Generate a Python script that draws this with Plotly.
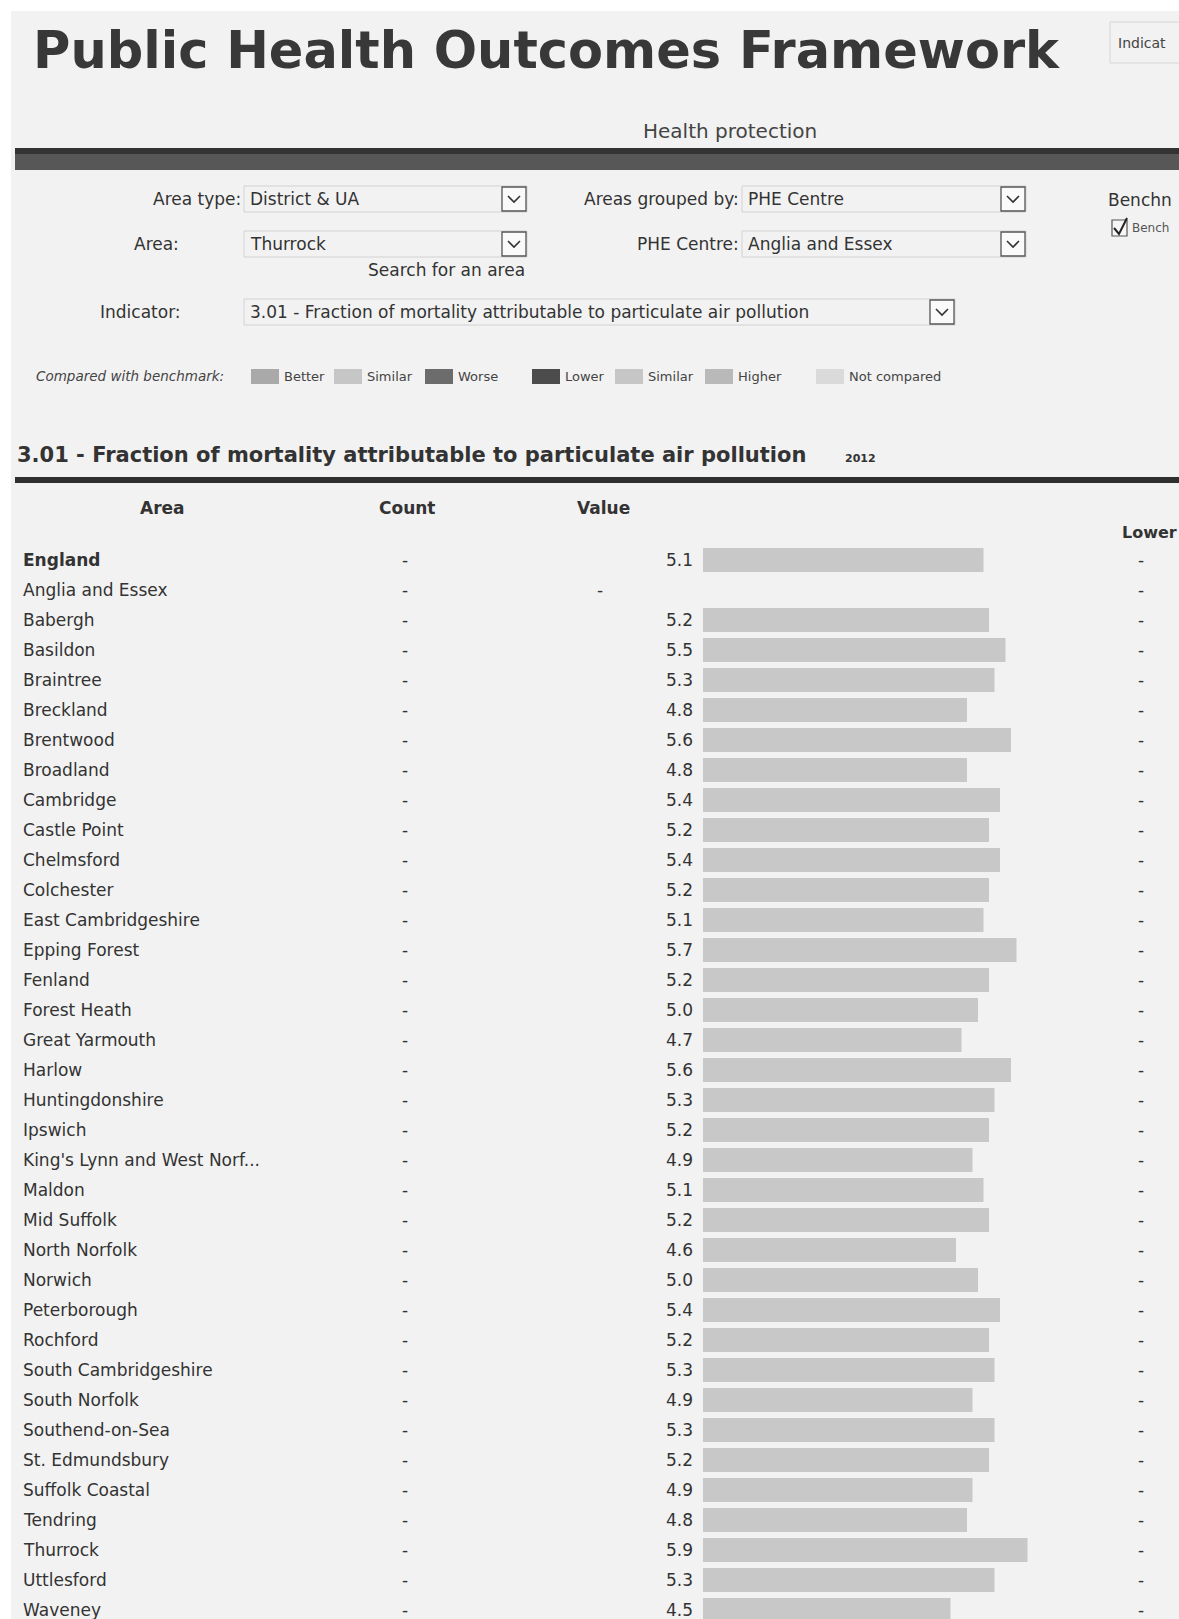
import plotly.graph_objects as go

W, H = 1179, 1619

# ---- table data -------------------------------------------------------------
areas = [
    "England", "Anglia and Essex", "Babergh", "Basildon", "Braintree",
    "Breckland", "Brentwood", "Broadland", "Cambridge", "Castle Point",
    "Chelmsford", "Colchester", "East Cambridgeshire", "Epping Forest",
    "Fenland", "Forest Heath", "Great Yarmouth", "Harlow", "Huntingdonshire",
    "Ipswich", "King's Lynn and West Norf...", "Maldon", "Mid Suffolk",
    "North Norfolk", "Norwich", "Peterborough", "Rochford",
    "South Cambridgeshire", "South Norfolk", "Southend-on-Sea",
    "St. Edmundsbury", "Suffolk Coastal", "Tendring", "Thurrock",
    "Uttlesford", "Waveney",
]
values = [
    5.1, None, 5.2, 5.5, 5.3, 4.8, 5.6, 4.8, 5.4, 5.2, 5.4, 5.2, 5.1, 5.7,
    5.2, 5.0, 4.7, 5.6, 5.3, 5.2, 4.9, 5.1, 5.2, 4.6, 5.0, 5.4, 5.2, 5.3,
    4.9, 5.3, 5.2, 4.9, 4.8, 5.9, 5.3, 4.5,
]
counts = ["-"] * len(areas)
lower_ci = ["-"] * len(areas)

column_headers = ["Area", "Count", "Value"]

legend_labels = ["Better", "Similar", "Worse", "Lower", "Similar", "Higher", "Not compared"]
legend_colors = ["#a9a9a9", "#c6c6c6", "#6c6c6c", "#4c4c4c", "#c6c6c6", "#b9b9b9", "#dadada"]

FONT = "DejaVu Sans, Liberation Sans, Arial, sans-serif"
TXT = "#333333"
BAR = "#c8c8c8"
PAGE = "#f2f2f2"


def px(x):
    return x / W


def py(y):
    return 1 - y / H


annotations = []
shapes = []


def label(x, y, s, size=17, anchor="left", color=TXT, yref="paper", bold=False):
    if bold:
        s = f"<b>{s}</b>"
    annotations.append(dict(
        x=px(x), y=py(y) if yref == "paper" else y, xref="paper", yref=yref,
        text=s, showarrow=False, xanchor=anchor, yanchor="middle",
        font=dict(family=FONT, size=size, color=color),
    ))


def rect(x0, y0, x1, y1, fill=None, line=None, lw=1, layer="below"):
    shapes.append(dict(
        type="rect", xref="paper", yref="paper",
        x0=px(x0), x1=px(x1), y0=py(y0), y1=py(y1),
        fillcolor=fill if fill else "rgba(0,0,0,0)",
        line=dict(color=line if line else "rgba(0,0,0,0)", width=lw if line else 0),
        layer=layer,
    ))


def dropdown(x0, x1, yc, text):
    # text box with a small chevron button on its right edge
    rect(x0, yc - 13, x1, yc + 13, line="#d2d2d2", lw=1)
    label(x0 + 4, yc, text, size=17)
    bx0, bx1 = x1 - 25, x1 - 1
    rect(bx0, yc - 12, bx1, yc + 12, fill="#fafafa", line="#555555", lw=1.3, layer="above")
    cx = (bx0 + bx1) / 2
    shapes.append(dict(
        type="path", xref="paper", yref="paper", layer="above",
        path=f"M {px(cx - 6)} {py(yc - 3)} L {px(cx)} {py(yc + 3)} L {px(cx + 6)} {py(yc - 3)}",
        line=dict(color="#333333", width=1.6),
    ))


# ---- page background --------------------------------------------------------
rect(11, 11, W, H, fill=PAGE)

# ---- page header ------------------------------------------------------------
label(31, 50, "Public Health Outcomes Framework", size=51, color="#383838", bold=True)
rect(1110, 22, W + 5, 63, line="#d6d6d6", lw=1)
label(1116, 43, "Indicat", size=14, color="#444444")
label(730, 131, "Health protection", size=20, anchor="center", color="#444444")
rect(15, 148, W, 170, fill="#575757")
rect(15, 148, W, 154, fill="#333333")

# ---- selectors --------------------------------------------------------------
label(243, 199, "Area type:", anchor="right")
dropdown(244, 527, 199, "District & UA")
label(741, 199, "Areas grouped by:", anchor="right")
dropdown(742, 1026, 199, "PHE Centre")
label(1106, 200, "Benchn", size=17)

label(132, 244, "Area:")
dropdown(244, 527, 244, "Thurrock")
label(741, 244, "PHE Centre:", anchor="right")
dropdown(742, 1026, 244, "Anglia and Essex")
rect(1112, 220, 1127, 236, fill="#f6f6f6", line="#555555", lw=1.2, layer="above")
shapes.append(dict(
    type="path", xref="paper", yref="paper", layer="above",
    path=f"M {px(1114)} {py(228)} L {px(1119)} {py(234)} L {px(1127)} {py(218)}",
    line=dict(color="#222222", width=2),
))
label(1130, 228, "Bench", size=12, color="#555555")
label(527, 270, "Search for an area", anchor="right")

label(98, 312, "Indicator:")
dropdown(244, 955, 312, "3.01 - Fraction of mortality attributable to particulate air pollution")

# ---- colour key -------------------------------------------------------------
label(34, 376, "<i>Compared with benchmark:</i>", size=13.5, color="#444444")
key_x = [251, 334, 425, 532, 615, 705, 816]
for kx, lab, col in zip(key_x, legend_labels, legend_colors):
    rect(kx, 369, kx + 28, 384, fill=col)
    label(kx + 31, 376, lab, size=13, color="#444444")

# ---- indicator section ------------------------------------------------------
label(15, 455, "3.01 - Fraction of mortality attributable to particulate air pollution",
      size=21, bold=True)
label(843, 458, "2012", size=11, bold=True)
rect(15, 477, W, 483, fill="#2f2f2f")

for hx, h in zip([162, 407, 603], column_headers):
    label(hx, 508, h, anchor="center", bold=True)
label(1120, 532, "Lower", size=16, bold=True)

# ---- rows -------------------------------------------------------------------
for i, (a, c, v, lo) in enumerate(zip(areas, counts, values, lower_ci)):
    label(21, i, a, yref="y", bold=(i == 0))
    label(405, i, c, anchor="center", yref="y")
    if v is None:
        label(600, i, "-", anchor="center", yref="y")
    else:
        label(695, i, f"{v:.1f}", anchor="right", yref="y")
    label(1141, i, lo, anchor="center", yref="y")

bars = go.Bar(
    x=values, y=areas, orientation="h", width=0.8,
    marker=dict(color=BAR, line=dict(width=0)),
    hoverinfo="skip",
)

ROW0, PITCH, BAR_X0, PX_PER_UNIT = 560, 30, 703, 55
top_val = -ROW0 / PITCH

fig = go.Figure(bars)
fig.update_layout(
    width=W, height=H,
    margin=dict(l=0, r=0, t=0, b=0),
    paper_bgcolor="white",
    plot_bgcolor="rgba(0,0,0,0)",
    showlegend=False,
    annotations=annotations,
    shapes=shapes,
    xaxis=dict(domain=[BAR_X0 / W, 1], range=[0, (W - BAR_X0) / PX_PER_UNIT],
               visible=False, fixedrange=True),
    yaxis=dict(type="category", categoryorder="array", categoryarray=areas,
               range=[top_val + H / PITCH, top_val], domain=[0, 1],
               visible=False, fixedrange=True),
)

fig.write_html("out.html")
